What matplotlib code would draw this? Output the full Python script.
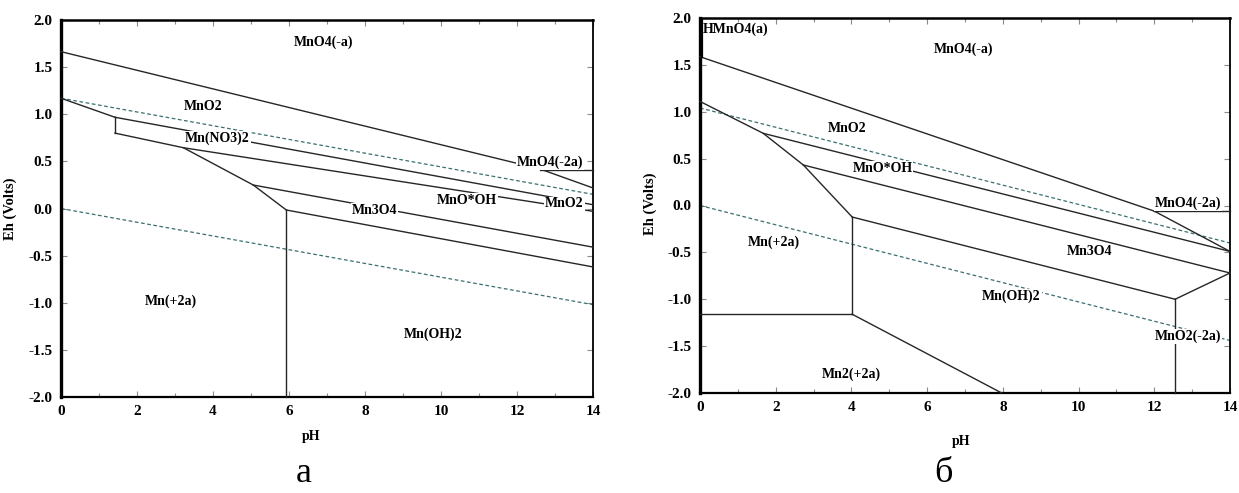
import matplotlib
matplotlib.use("Agg")
import matplotlib.pyplot as plt
import numpy as np

plt.rcParams['font.family'] = ['Liberation Serif', 'DejaVu Serif']
plt.rcParams['axes.unicode_minus'] = False

# ---------------- data: panel a ----------------
a_line1_ph = [0.0, 12.6]
a_line1_eh = [1.664, 0.42]
a_line2_ph = [0.0, 1.42]
a_line2_eh = [1.17, 0.968]
a_line3_ph = [1.42, 1.42]
a_line3_eh = [0.968, 0.80]
a_line4_ph = [1.42, 14.0]
a_line4_eh = [0.968, 0.04]
a_line5_ph = [1.42, 3.22, 14.0]
a_line5_eh = [0.80, 0.645, -0.03]
a_line6_ph = [3.22, 5.06, 5.93]
a_line6_eh = [0.645, 0.249, -0.016]
a_line7_ph = [5.93, 5.93]
a_line7_eh = [-0.016, -2.0]
a_line8_ph = [5.06, 14.0]
a_line8_eh = [0.249, -0.41]
a_line9_ph = [5.93, 14.0]
a_line9_eh = [-0.016, -0.62]
a_line10_ph = [12.6, 14.0]
a_line10_eh = [0.41, 0.41]
a_line11_ph = [12.6, 14.0]
a_line11_eh = [0.42, 0.218]
a_water_up_ph = [0.0, 14.0]
a_water_up_eh = [1.17, 0.15]
a_water_lo_ph = [0.0, 14.0]
a_water_lo_eh = [0.0, -1.02]

a_labels = ["MnO4(-a)", "MnO2", "Mn(NO3)2", "MnO4(-2a)", "MnO*OH", "MnO2", "Mn3O4", "Mn(+2a)", "Mn(OH)2"]
a_label_ph = [6.92, 3.75, 4.12, 12.87, 10.68, 13.25, 8.24, 2.89, 9.79]
a_label_eh = [1.76, 1.08, 0.745, 0.486, 0.09, 0.048, -0.023, -0.98, -1.33]

# ---------------- data: panel b ----------------
b_line1_ph = [0.0, 12.0]
b_line1_eh = [1.587, -0.06]
b_line2_ph = [12.0, 14.0]
b_line2_eh = [-0.06, -0.49]
b_line3_ph = [12.0, 14.0]
b_line3_eh = [-0.06, -0.06]
b_line4_ph = [0.0, 1.67, 2.73, 4.02]
b_line4_eh = [1.11, 0.77, 0.432, -0.123]
b_line5_ph = [1.67, 14.0]
b_line5_eh = [0.77, -0.49]
b_line6_ph = [2.73, 14.0]
b_line6_eh = [0.432, -0.72]
b_line7_ph = [4.02, 12.55]
b_line7_eh = [-0.123, -1.0]
b_line8_ph = [12.55, 14.0]
b_line8_eh = [-1.0, -0.72]
b_line9_ph = [12.55, 12.55]
b_line9_eh = [-1.0, -2.0]
b_line10_ph = [4.02, 4.02]
b_line10_eh = [-0.123, -1.16]
b_line11_ph = [0.0, 4.02]
b_line11_eh = [-1.16, -1.16]
b_line12_ph = [4.02, 7.97]
b_line12_eh = [-1.16, -2.0]
b_line13_ph = [0.04, 0.04]
b_line13_eh = [1.587, 2.0]
b_water_up_ph = [0.0, 14.0]
b_water_up_eh = [1.04, -0.40]
b_water_lo_ph = [0.0, 14.0]
b_water_lo_eh = [0.0, -1.44]

b_labels = ["MnO4(-a)", "MnO2", "MnO*OH", "MnO4(-2a)", "Mn3O4", "Mn(+2a)", "Mn(OH)2", "MnO2(-2a)", "Mn2(+2a)"]
b_label_ph = [6.97, 3.88, 4.82, 12.89, 10.28, 1.94, 8.23, 12.88, 3.99]
b_label_eh = [1.67, 0.82, 0.40, 0.02, -0.49, -0.39, -0.97, -1.40, -1.80]
b_corner_label = "HMnO4(a)"
b_corner_ph = 0.07
b_corner_eh = 1.875

x_ticks = [0, 2, 4, 6, 8, 10, 12, 14]
y_ticks = [-2.0, -1.5, -1.0, -0.5, 0.0, 0.5, 1.0, 1.5, 2.0]

LINE_C = '#262626'
DASH_C = '#3b6f70'
LABEL_FS = 10

fig = plt.figure(figsize=(12.39, 4.93), dpi=100)
ax_a = fig.add_axes([61/1239, 1-397/493, 532/1239, 377/493])
ax_b = fig.add_axes([700/1239, 1-393/493, 530/1239, 375/493])


def style_axes(ax, xlab_pos, ylab_pos):
    ax.set_xlim(0, 14)
    ax.set_ylim(-2, 2)
    ax.set_xticks(x_ticks)
    ax.set_xticks(np.arange(0, 15, 1), minor=True)
    ax.set_yticks(y_ticks)
    ax.set_xticklabels([str(t) for t in x_ticks], fontweight='bold', fontsize=11)
    ax.set_yticklabels([f"{t:.1f}" for t in y_ticks], fontweight='bold', fontsize=11)
    ax.tick_params(which='both', direction='in', length=4, width=0.8, color='#8a8a8a',
                   top=True, right=True, left=True, bottom=True, pad=6)
    ax.tick_params(which='minor', length=3)
    for side, lw in [('left', 2.4), ('bottom', 1.6), ('top', 1.8), ('right', 1.3)]:
        ax.spines[side].set_linewidth(lw)
        ax.spines[side].set_color('black')
    ax.set_xlabel('pH', fontweight='bold', fontsize=10)
    ax.set_ylabel('Eh (Volts)', fontweight='bold', fontsize=10.5)
    ax.xaxis.set_label_coords(*xlab_pos)
    ax.yaxis.set_label_coords(*ylab_pos)


def put_labels(ax, names, phs, ehs):
    for n, x, y in zip(names, phs, ehs):
        ax.text(x, y, n, ha='center', va='center', fontsize=LABEL_FS, fontweight='bold',
                zorder=5, bbox=dict(facecolor='white', edgecolor='none', pad=0.6))


# panel a
for xs, ys in [(a_line1_ph, a_line1_eh), (a_line2_ph, a_line2_eh), (a_line3_ph, a_line3_eh),
               (a_line4_ph, a_line4_eh), (a_line5_ph, a_line5_eh), (a_line6_ph, a_line6_eh),
               (a_line7_ph, a_line7_eh), (a_line8_ph, a_line8_eh), (a_line9_ph, a_line9_eh),
               (a_line10_ph, a_line10_eh), (a_line11_ph, a_line11_eh)]:
    ax_a.plot(xs, ys, color=LINE_C, lw=1.0, zorder=3, clip_on=False)
for xs, ys in [(a_water_up_ph, a_water_up_eh), (a_water_lo_ph, a_water_lo_eh)]:
    ax_a.plot(xs, ys, color=DASH_C, lw=0.9, ls=(0, (3, 2)), zorder=2)
put_labels(ax_a, a_labels, a_label_ph, a_label_eh)
style_axes(ax_a, (0.47, -0.0875), (-0.083, 0.5))

# panel b
for xs, ys in [(b_line1_ph, b_line1_eh), (b_line2_ph, b_line2_eh), (b_line3_ph, b_line3_eh),
               (b_line4_ph, b_line4_eh), (b_line5_ph, b_line5_eh), (b_line6_ph, b_line6_eh),
               (b_line7_ph, b_line7_eh), (b_line8_ph, b_line8_eh), (b_line9_ph, b_line9_eh),
               (b_line10_ph, b_line10_eh), (b_line11_ph, b_line11_eh), (b_line12_ph, b_line12_eh)]:
    ax_b.plot(xs, ys, color=LINE_C, lw=1.0, zorder=3, clip_on=False)
ax_b.plot(b_line13_ph, b_line13_eh, color='black', lw=1.6, zorder=3)
for xs, ys in [(b_water_up_ph, b_water_up_eh), (b_water_lo_ph, b_water_lo_eh)]:
    ax_b.plot(xs, ys, color=DASH_C, lw=0.9, ls=(0, (3, 2)), zorder=2)
put_labels(ax_b, b_labels, b_label_ph, b_label_eh)
ax_b.text(b_corner_ph, b_corner_eh, b_corner_label, ha='left', va='center', fontsize=LABEL_FS,
          fontweight='bold', zorder=5)
style_axes(ax_b, (0.492, -0.112), (-0.082, 0.505))

fig.text(304/1239, 1-474/493, 'а', fontsize=26, ha='center', va='center')
fig.text(943/1239, 1-474/493, 'б', fontsize=26, ha='center', va='center')

fig.savefig('out.png', dpi=100)
